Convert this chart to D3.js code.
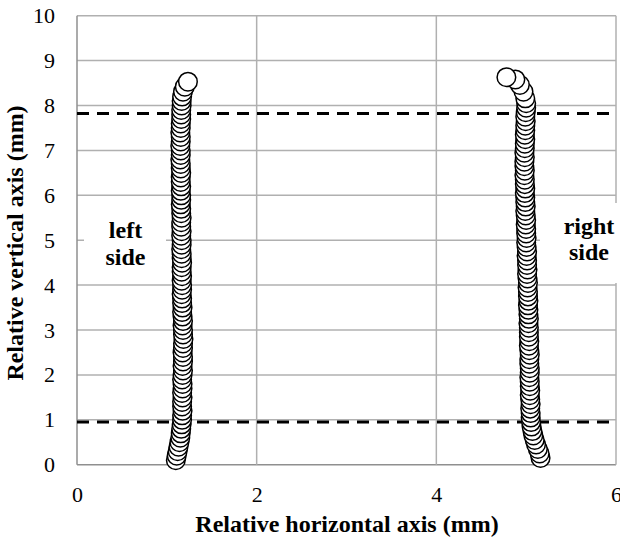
<!DOCTYPE html>
<html>
<head>
<meta charset="utf-8">
<title>Relative profile - left and right side</title>
<script src="https://cdn.jsdelivr.net/npm/d3@7"></script>
<style>
  body { margin: 0; background: #fff; }
  text { font-family: "Liberation Serif", "Times New Roman", serif; }
</style>
</head>
<body>
<div id="chart"></div>
<script>
// left side points (mm)
var leftY = [0.1,0.2,0.3,0.4,0.5,0.6,0.7,0.8,0.9,1.0,1.1,1.2,1.3,1.4,1.5,1.6,1.7,1.8,1.9,2.0,
  2.1,2.2,2.3,2.4,2.5,2.6,2.7,2.8,2.9,3.0,3.1,3.2,3.3,3.4,3.5,3.6,3.7,3.8,3.9,4.0,
  4.1,4.2,4.3,4.4,4.5,4.6,4.7,4.8,4.9,5.0,5.1,5.2,5.3,5.4,5.5,5.6,5.7,5.8,5.9,6.0,
  6.1,6.2,6.3,6.4,6.5,6.6,6.7,6.8,6.9,7.0,7.1,7.2,7.3,7.4,7.5,7.6,7.7,7.8,7.9,8.0,
  8.1,8.2,8.31,8.42,8.53];
var leftX = [1.10,1.11,1.12,1.13,1.14,1.15,1.155,1.16,1.165,1.17,1.17,1.175,1.17,1.17,1.175,1.17,1.175,1.175,1.17,1.175,
  1.18,1.175,1.18,1.18,1.175,1.18,1.18,1.185,1.18,1.18,1.175,1.18,1.175,1.17,1.175,1.17,1.17,1.165,1.17,1.17,
  1.165,1.17,1.165,1.165,1.17,1.165,1.165,1.16,1.165,1.165,1.16,1.165,1.16,1.16,1.165,1.16,1.16,1.155,1.16,1.16,
  1.155,1.16,1.155,1.155,1.16,1.155,1.155,1.15,1.155,1.155,1.15,1.155,1.155,1.15,1.155,1.155,1.16,1.16,1.16,1.165,
  1.165,1.17,1.18,1.20,1.235];

// right side points (mm)
var rightY = [0.15,0.25,0.35,0.45,0.55,0.65,0.75,0.85,0.95,1.05,1.15,1.25,1.35,1.45,1.55,1.65,1.75,1.85,1.95,2.05,
  2.15,2.25,2.35,2.45,2.55,2.65,2.75,2.85,2.95,3.05,3.15,3.25,3.35,3.45,3.55,3.65,3.75,3.85,3.95,4.05,
  4.15,4.25,4.35,4.45,4.55,4.65,4.75,4.85,4.95,5.05,5.15,5.25,5.35,5.45,5.55,5.65,5.75,5.85,5.95,6.05,
  6.15,6.25,6.35,6.45,6.55,6.65,6.75,6.85,6.95,7.05,7.15,7.25,7.35,7.45,7.55,7.65,7.75,7.85,7.95,8.05,
  8.16,8.31,8.46,8.58,8.63];
var rightX = [5.16,5.15,5.13,5.11,5.095,5.08,5.07,5.06,5.055,5.05,5.05,5.045,5.05,5.045,5.04,5.045,5.04,5.04,5.035,5.04,
  5.04,5.035,5.035,5.04,5.035,5.03,5.035,5.03,5.03,5.03,5.025,5.03,5.025,5.025,5.02,5.025,5.02,5.02,5.015,5.02,
  5.015,5.01,5.015,5.01,5.01,5.005,5.01,5.005,5.0,5.005,5.0,5.0,4.995,5.0,4.995,4.99,4.995,4.99,4.99,4.985,
  4.99,4.985,4.985,4.98,4.985,4.98,4.98,4.985,4.98,4.985,4.985,4.99,4.985,4.99,4.99,4.995,4.99,4.995,5.0,5.0,
  4.99,4.97,4.93,4.88,4.78];

var xTicks = [0, 2, 4, 6];
var yTicks = [0, 1, 2, 3, 4, 5, 6, 7, 8, 9, 10];
var dashLevels = [0.95, 7.82];
var sideLabels = [["left", "side"], ["right", "side"]];

var W = 620, H = 541;
var x = d3.scaleLinear().domain([0, 6]).range([77, 616]);
var y = d3.scaleLinear().domain([0, 10]).range([464.7, 15.7]);

var svg = d3.select("#chart").append("svg")
  .attr("width", W).attr("height", H);

// grid
svg.append("g").selectAll("line").data(yTicks).enter().append("line")
  .attr("x1", x(0)).attr("x2", x(6))
  .attr("y1", d => y(d)).attr("y2", d => y(d))
  .attr("stroke", d => d == 0 ? "#8f8f8f" : "#b0b0b0").attr("stroke-width", 1.5);
svg.append("g").selectAll("line").data(xTicks).enter().append("line")
  .attr("x1", d => x(d)).attr("x2", d => x(d))
  .attr("y1", y(0)).attr("y2", y(10))
  .attr("stroke", d => d == 0 ? "#8f8f8f" : "#b0b0b0").attr("stroke-width", 1.5);

// label boxes hide the grid behind them
svg.append("rect").attr("x", 84).attr("y", 205).attr("width", 82).attr("height", 70).attr("fill", "#fff");
svg.append("rect").attr("x", 540).attr("y", 203).attr("width", 80).attr("height", 80).attr("fill", "#fff");

// tick labels
var ax = svg.append("g").attr("transform", "translate(0," + y(0) + ")")
  .call(d3.axisBottom(x).tickValues(xTicks).tickSize(0).tickPadding(21.5).tickFormat(d3.format("d")));
var ay = svg.append("g").attr("transform", "translate(" + x(0) + ",0)")
  .call(d3.axisLeft(y).tickValues(yTicks).tickSize(0).tickPadding(22).tickFormat(d3.format("d")));
[ax, ay].forEach(function(g){
  g.select(".domain").remove();
  g.selectAll("text").attr("font-size", 22).attr("fill", "#000");
});

// dashed limits
svg.append("g").selectAll("line").data(dashLevels).enter().append("line")
  .attr("x1", x(0)).attr("x2", x(6))
  .attr("y1", d => y(d)).attr("y2", d => y(d))
  .attr("stroke", "#000").attr("stroke-width", 3).attr("stroke-dasharray", "12,8");

// points, bottom first so the upper ones sit on top
function drawSide(xs, ys) {
  svg.append("g").selectAll("circle").data(d3.zip(xs, ys)).enter().append("circle")
    .attr("cx", d => x(d[0])).attr("cy", d => y(d[1])).attr("r", 9.3)
    .attr("fill", "#fff").attr("stroke", "#000").attr("stroke-width", 1.5);
}
drawSide(leftX, leftY);
drawSide(rightX, rightY);

// side labels
var labPos = [[125.5, 238], [589, 233.5]];
sideLabels.forEach(function(lines, i){
  var t = svg.append("text").attr("text-anchor", "middle")
    .attr("font-weight", "bold").attr("font-size", 24);
  lines.forEach(function(s, j){
    t.append("tspan").attr("x", labPos[i][0]).attr("y", labPos[i][1] + j * 26.5).text(s);
  });
});

// axis titles
svg.append("text").attr("x", 347).attr("y", 532)
  .attr("text-anchor", "middle").attr("font-weight", "bold").attr("font-size", 24)
  .text("Relative horizontal axis (mm)");
svg.append("text").attr("transform", "translate(23,243) rotate(-90)")
  .attr("text-anchor", "middle").attr("font-weight", "bold").attr("font-size", 24)
  .text("Relative vertical axis (mm)");
</script>
</body>
</html>
